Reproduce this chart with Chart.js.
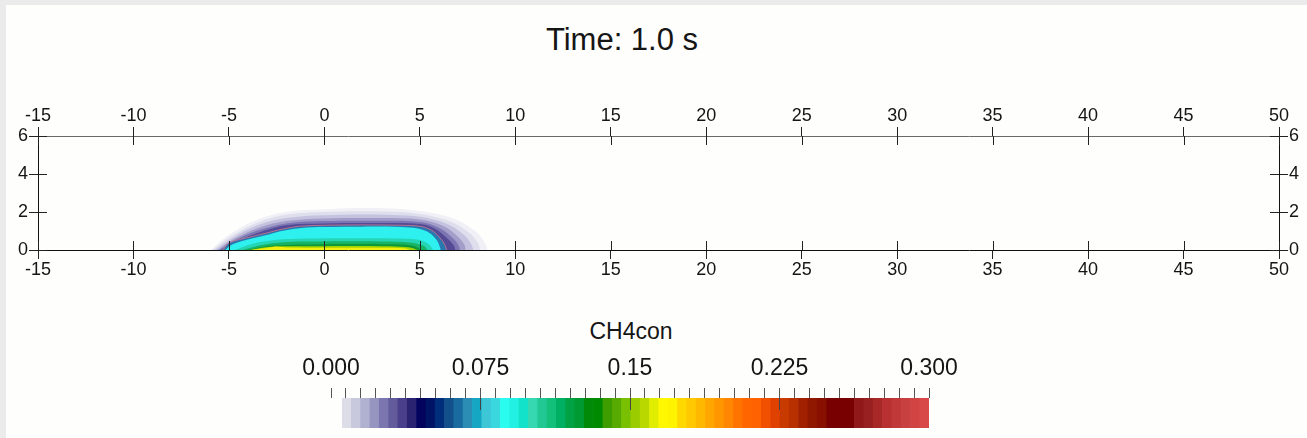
<!DOCTYPE html>
<html>
<head>
<meta charset="utf-8">
<script src="https://cdn.jsdelivr.net/npm/chart.js@4/dist/chart.umd.min.js"></script>
<style>
  html, body { margin: 0; padding: 0; background: #ebebeb; }
  #page { position: absolute; left: 6px; top: 5px; width: 1301px; height: 433px; background: #fefefc; }
  canvas { position: absolute; }
  .lbl { position: absolute; font-family: 'Liberation Sans', Arial, sans-serif; color: #151515; white-space: nowrap; text-align: center; }
</style>
</head>
<body>
<div id="page"></div>
<div class="lbl" id="title" style="left:472px; top:24px; width:300px; font-size:31px; line-height:31px;">Time: 1.0 s</div>
<div class="lbl" id="cbTitle" style="left:531px; top:320px; width:200px; font-size:23px; line-height:23px;">CH4con</div>
<canvas id="plot" width="1307" height="200" style="left:0; top:95px;"></canvas>
<canvas id="cbar" width="587" height="30" style="left:342px; top:398px;"></canvas>
<canvas id="cticks" width="660" height="60" style="left:300px; top:350px;"></canvas>
<script>
/* ========== data ========== */

// axis ticks
const xTicks = [-15, -10, -5, 0, 5, 10, 15, 20, 25, 30, 35, 40, 45, 50];
const yTicks = [0, 2, 4, 6];

// contour outlines of CH4con, [x, y] in metres, outermost first
const haze1 = [[-5.95, 0], [-5.0, 0.8], [-3.5, 1.6], [-2, 2.0], [0, 2.15], [3, 2.2], [5, 2.05], [6.8, 1.65], [7.9, 1.0], [8.4, 0.4], [8.55, 0]];
const haze2 = [[-5.85, 0], [-4.9, 0.72], [-3.5, 1.45], [-2, 1.85], [0, 2.0], [3, 2.03], [5, 1.9], [6.6, 1.5], [7.6, 0.9], [8.05, 0.35], [8.15, 0]];
const haze3 = [[-5.75, 0], [-4.8, 0.65], [-3.5, 1.3], [-2, 1.68], [0, 1.83], [3, 1.86], [5, 1.75], [6.4, 1.38], [7.3, 0.8], [7.7, 0.3], [7.8, 0]];
const haze4 = [[-5.6, 0], [-4.7, 0.6], [-3.5, 1.15], [-2, 1.52], [0, 1.66], [3, 1.68], [5, 1.6], [6.2, 1.27], [7.0, 0.7], [7.35, 0.25], [7.4, 0]];
const haze5 = [[-5.5, 0], [-4.6, 0.55], [-3.5, 1.02], [-2, 1.4], [0, 1.52], [3, 1.54], [5, 1.47], [6.0, 1.17], [6.75, 0.6], [7.05, 0.2], [7.1, 0]];
const haze6 = [[-5.4, 0], [-4.5, 0.5], [-3.5, 0.9], [-2, 1.3], [0, 1.4], [3, 1.42], [5, 1.37], [5.8, 1.12], [6.5, 0.55], [6.8, 0.2], [6.85, 0]];
const edge = [[-5.3, 0], [-5.0, 0.37], [-3.9, 0.68], [-3.0, 0.9], [-2.2, 1.1], [-1.3, 1.25], [0, 1.3], [2, 1.32], [4, 1.3], [5, 1.25], [5.6, 1.05], [6.0, 0.7], [6.3, 0.3], [6.4, 0]];
const cyan = [[-5.2, 0], [-4.8, 0.3], [-3.8, 0.6], [-2.9, 0.82], [-2.1, 1.02], [-1.2, 1.16], [0, 1.21], [2, 1.23], [4, 1.21], [4.9, 1.13], [5.5, 0.9], [5.9, 0.5], [6.1, 0]];
const teal = [[-4.7, 0], [-3.8, 0.32], [-2.6, 0.52], [-1, 0.6], [2, 0.62], [4, 0.6], [5, 0.52], [5.5, 0.28], [5.7, 0]];
const green = [[-4.3, 0], [-3.2, 0.27], [-2, 0.42], [0, 0.45], [3, 0.45], [4.5, 0.4], [5.2, 0.22], [5.4, 0]];
const dkgreen = [[-4.0, 0], [-2.8, 0.22], [0, 0.3], [3, 0.3], [4.6, 0.24], [5.1, 0]];
const lime = [[-3.9, 0], [-2.8, 0.17], [0, 0.2], [3, 0.2], [4.4, 0.14], [4.9, 0]];
const yellow = [[-3.8, 0], [-2.9, 0.13], [-2.5, 0.19], [-1.8, 0.13], [1, 0.12], [3, 0.12], [4.2, 0.09], [4.5, 0]];

// colour legend
const cbarTicks = [0, 0.0075, 0.015, 0.0225, 0.03, 0.0375, 0.045, 0.0525, 0.06, 0.0675,
    0.075, 0.0825, 0.09, 0.0975, 0.105, 0.1125, 0.12, 0.1275, 0.135, 0.1425,
    0.15, 0.1575, 0.165, 0.1725, 0.18, 0.1875, 0.195, 0.2025, 0.21, 0.2175,
    0.225, 0.2325, 0.24, 0.2475, 0.255, 0.2625, 0.27, 0.2775, 0.285, 0.2925, 0.3];
const cbarLabels = ['0.000', '0.075', '0.15', '0.225', '0.300'];
const cbarColors = [
    '#dddde7', '#c9c9dd', '#b0b0d0', '#9595c0', '#7b76b0', '#625c9c', '#4a3f8a', '#2a2372', '#03035e',
    '#001466', '#002e7a', '#12508c', '#1a6ca0', '#2b8cb4', '#14a6c2', '#3cc6d6', '#3ad8de', '#2afcf0',
    '#22f0e2', '#12e2ca', '#36d8b2', '#22c894', '#12c07c', '#00b062', '#00a244', '#009a32', '#008a08',
    '#008a00', '#3e9e00', '#56aa00', '#78c000', '#9acc00', '#b8d800', '#e0ec00', '#fff800', '#fff400',
    '#ffd800', '#ffc800', '#ffb800', '#ffa600', '#ff9600', '#ff8600', '#ff7400', '#ff6600', '#ff6200',
    '#f05000', '#e04000', '#c83a00', '#b83000', '#a02000', '#901800', '#881000', '#780000', '#780000',
    '#780000', '#901818', '#982020', '#a82828', '#b83030', '#c03838', '#c84040', '#d04444', '#d84848',
];

/* ========== plot ========== */

const font = 'Liberation Sans, Arial, sans-serif';
const ink = '#151515';

const layers = [
    { pts: haze1, color: '#f0f0f6' },
    { pts: haze2, color: '#dedeec' },
    { pts: haze3, color: '#c4c2de' },
    { pts: haze4, color: '#a29ec9' },
    { pts: haze5, color: '#7c76b2' },
    { pts: haze6, color: '#544a96' },
    { pts: edge, color: '#2a78b0' },
    { pts: cyan, color: '#2ef0ee' },
    { pts: teal, color: '#24d6b6' },
    { pts: green, color: '#18b464' },
    { pts: dkgreen, color: '#0c9838' },
    { pts: lime, color: '#a6d400' },
    { pts: yellow, color: '#f2ee10' },
];

const datasets = layers.map((l, i) => ({
    data: l.pts.map(p => ({ x: p[0], y: p[1] })),
    showLine: true,
    fill: 'origin',
    backgroundColor: l.color,
    borderColor: l.color,
    borderWidth: 0,
    pointRadius: 0,
    tension: 0.35,
    order: layers.length - i + 1,
}));
datasets.push({
    data: edge.map(p => ({ x: p[0], y: p[1] })),
    showLine: true,
    fill: false,
    borderColor: '#b8708e',
    borderWidth: 1,
    pointRadius: 0,
    tension: 0.35,
    order: 0,
});

function tickList(values) {
    return scale => { scale.ticks = values.map(v => ({ value: v })); };
}

// pin an axis to a fixed size, no extra label padding
function fixSize(prop, v) {
    return scale => {
        scale[prop] = v;
        scale.paddingLeft = scale.paddingRight = scale.paddingTop = scale.paddingBottom = 0;
    };
}

const tickFont = { family: font, size: 18 };

const axisX = (pos, h, borderColor) => ({
    type: 'linear',
    position: pos,
    min: -15,
    max: 50,
    z: 1,
    afterBuildTicks: tickList(xTicks),
    afterFit: fixSize('height', h),
    grid: { drawOnChartArea: false, tickLength: 9, tickColor: '#222' },
    border: { color: borderColor, width: 1 },
    ticks: { color: ink, font: tickFont, padding: pos === 'top' ? 0 : 0, maxRotation: 0, autoSkip: false },
});

const axisY = (pos, w) => ({
    type: 'linear',
    position: pos,
    min: 0,
    max: 6,
    z: 1,
    afterBuildTicks: tickList(yTicks),
    afterFit: fixSize('width', w),
    grid: { drawOnChartArea: false, tickLength: 9, tickColor: '#222' },
    border: { color: '#111', width: 1 },
    ticks: { color: ink, font: tickFont, padding: 1 },
});

// ticks cross the frame: draw the inner half too
const innerTicks = {
    id: 'innerTicks',
    afterDraw(chart) {
        const ctx = chart.ctx;
        ctx.save();
        ctx.strokeStyle = '#222';
        ctx.lineWidth = 1;
        ['x', 'x2', 'y', 'y2'].forEach(id => {
            const s = chart.scales[id];
            s.ticks.forEach(t => {
                const p = Math.round(s.getPixelForValue(t.value)) + 0.5;
                ctx.beginPath();
                if (id === 'x') { ctx.moveTo(p, s.top); ctx.lineTo(p, s.top - 9); }
                if (id === 'x2') { ctx.moveTo(p, s.bottom); ctx.lineTo(p, s.bottom + 9); }
                if (id === 'y') { ctx.moveTo(s.right, p); ctx.lineTo(s.right + 9, p); }
                if (id === 'y2') { ctx.moveTo(s.left, p); ctx.lineTo(s.left - 9, p); }
                ctx.stroke();
            });
        });
        ctx.restore();
    },
};

new Chart(document.getElementById('plot'), {
    type: 'scatter',
    data: { datasets },
    options: {
        responsive: false,
        animation: false,
        layout: { padding: 0 },
        plugins: { legend: { display: false }, tooltip: { enabled: false } },
        scales: {
            x: axisX('bottom', 45, '#111'),
            x2: axisX('top', 41, '#6a6a6a'),
            y: axisY('left', 38),
            y2: axisY('right', 28),
        },
    },
    plugins: [innerTicks],
});

/* ========== colour legend ========== */

new Chart(document.getElementById('cbar'), {
    type: 'bar',
    data: {
        labels: cbarColors.map((c, i) => i),
        datasets: [{
            data: cbarColors.map(() => 1),
            backgroundColor: cbarColors,
            borderWidth: 0,
            categoryPercentage: 1,
            barPercentage: 1,
        }],
    },
    options: {
        responsive: false,
        animation: false,
        layout: { padding: 0 },
        plugins: { legend: { display: false }, tooltip: { enabled: false } },
        scales: {
            x: { display: false },
            y: { display: false, min: 0, max: 1 },
        },
    },
});

new Chart(document.getElementById('cticks'), {
    type: 'scatter',
    data: { datasets: [] },
    options: {
        responsive: false,
        animation: false,
        layout: { padding: { left: 31, right: 31, top: 0, bottom: 0 } },
        plugins: { legend: { display: false }, tooltip: { enabled: false } },
        scales: {
            x: {
                type: 'linear',
                position: 'top',
                min: 0,
                max: 0.3,
                afterBuildTicks: tickList(cbarTicks),
                afterFit: fixSize('height', 48),
                border: { display: false },
                grid: {
                    drawOnChartArea: true,
                    tickLength: 10,
                    tickColor: '#555',
                    color: c => (c.index % 10 === 0 && c.index > 0 && c.index < 40) ? '#444' : 'rgba(0,0,0,0)',
                },
                ticks: {
                    color: ink,
                    font: { family: font, size: 23 },
                    padding: 6,
                    autoSkip: false,
                    maxRotation: 0,
                    callback: (v, i) => (i % 10 === 0 ? cbarLabels[i / 10] : ''),
                },
            },
            y: { display: false, min: 0, max: 1 },
        },
    },
});
</script>
</body>
</html>
